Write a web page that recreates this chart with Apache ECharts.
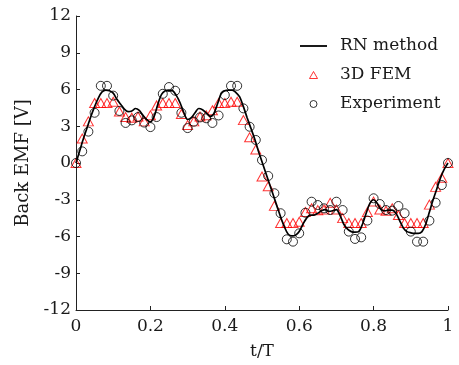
<!DOCTYPE html>
<html>
<head>
<meta charset="utf-8">
<script src="https://cdn.jsdelivr.net/npm/echarts@6/dist/echarts.min.js"></script>
<style>html,body{margin:0;padding:0;background:#fff}#c{width:459px;height:365px}</style>
</head>
<body>
<div id="c"></div>
<script>
// ---- data ----
const tRN = [0,0.01,0.02,0.03,0.04,0.05,0.06,0.07,0.08,0.09,0.10,0.11,0.12,0.13,0.14,0.15,0.16,0.17,0.18,0.19,0.20,0.21,0.22,0.23,0.24,0.25,0.26,0.27,0.28,0.29,0.30,0.31,0.32,0.33,0.34,0.35,0.36,0.37,0.38,0.39,0.40,0.41,0.42,0.43,0.44,0.45,0.46,0.47,0.48,0.49,0.50,0.51,0.52,0.53,0.54,0.55,0.56,0.57,0.58,0.59,0.60,0.61,0.62,0.63,0.64,0.65,0.66,0.67,0.68,0.69,0.70,0.71,0.72,0.73,0.74,0.75,0.76,0.77,0.78,0.79,0.80,0.81,0.82,0.83,0.84,0.85,0.86,0.87,0.88,0.89,0.90,0.91,0.92,0.93,0.94,0.95,0.96,0.97,0.98,0.99,1.00];
const rnValues = [0,1.0,2.0,2.9,3.8,4.6,5.3,5.8,5.95,5.9,5.7,5.2,4.8,4.4,4.2,4.25,4.45,4.3,3.9,3.55,3.35,3.8,4.8,5.6,5.9,5.95,5.9,5.5,4.9,4.1,3.55,3.7,4.1,4.45,4.35,4.1,3.8,4.0,4.8,5.65,5.9,5.95,5.95,5.75,5.4,4.6,3.7,2.85,2.0,1.0,0.1,-0.8,-1.7,-2.6,-3.5,-4.4,-5.2,-5.8,-5.95,-5.9,-5.6,-5.0,-4.5,-4.25,-4.25,-4.1,-3.9,-3.8,-3.95,-3.9,-3.8,-4.3,-5.0,-5.4,-5.6,-5.65,-5.6,-5.0,-4.1,-3.3,-3.0,-3.3,-3.8,-3.9,-3.85,-3.85,-4.1,-4.7,-5.3,-5.6,-5.7,-5.75,-5.75,-5.6,-5.0,-4.0,-3.0,-2.1,-1.2,-0.5,0];
const tSamples = [0,0.0167,0.0333,0.05,0.0667,0.0833,0.1,0.1167,0.1333,0.15,0.1667,0.1833,0.2,0.2167,0.2333,0.25,0.2667,0.2833,0.3,0.3167,0.3333,0.35,0.3667,0.3833,0.4,0.4167,0.4333,0.45,0.4667,0.4833,0.5,0.5167,0.5333,0.55,0.5667,0.5833,0.6,0.6167,0.6333,0.65,0.6667,0.6833,0.7,0.7167,0.7333,0.75,0.7667,0.7833,0.8,0.8167,0.8333,0.85,0.8667,0.8833,0.9,0.9167,0.9333,0.95,0.9667,0.9833,1];
const femValues = [0,2.0,3.4,4.9,4.9,4.9,5.0,4.2,3.75,3.7,3.8,3.4,3.9,4.7,4.9,4.9,4.9,4.0,3.1,3.4,3.8,3.9,4.3,4.9,4.9,5.0,5.0,3.5,2.1,1.1,-1.1,-1.9,-3.5,-4.9,-4.9,-4.9,-4.8,-4.0,-3.7,-3.85,-3.8,-3.25,-3.8,-4.5,-4.9,-4.9,-4.9,-4.0,-3.15,-3.8,-3.9,-3.7,-4.25,-4.9,-4.9,-4.9,-4.9,-3.4,-1.95,-1.2,0];
const expValues = [0,0.95,2.56,4.1,6.3,6.3,5.5,4.25,3.27,3.48,3.75,3.3,2.93,3.75,5.65,6.2,5.9,4.1,2.85,3.37,3.72,3.65,3.27,3.88,5.55,6.3,6.3,4.46,2.96,1.88,0.24,-1.06,-2.47,-4.1,-6.23,-6.42,-5.74,-4.06,-3.16,-3.43,-3.7,-3.84,-3.16,-3.84,-5.6,-6.2,-6.07,-4.7,-2.88,-3.35,-3.84,-3.89,-3.51,-4.1,-5.6,-6.42,-6.42,-4.71,-3.24,-1.8,0];
const xTicks = [0,0.2,0.4,0.6,0.8,1];
const yTicks = [-12,-9,-6,-3,0,3,6,9,12];
const seriesNames = ['RN method','3D FEM','Experiment'];
const xName = 't/T';
const yName = 'Back EMF [V]';

const FONT = 'DejaVu Serif';
const TXT = '#1a1a1a';
const pair = (xs, ys) => xs.map((x, i) => [x, ys[i]]);

const chart = echarts.init(document.getElementById('c'), null, {renderer: 'canvas'});
chart.setOption({
  animation: false,
  backgroundColor: '#fff',
  textStyle: {fontFamily: FONT},
  grid: {left: 76, right: 11, top: 16, bottom: 55, containLabel: false},
  legend: {
    orient: 'vertical', left: 300, top: 36, padding: 0,
    itemWidth: 27, itemHeight: 7, itemGap: 9, symbolKeepAspect: true,
    data: [
      {name: seriesNames[0], icon: 'path://M0,0 L27,0 L27,1.8 L0,1.8 Z',
       itemStyle: {color: '#000', borderWidth: 0}},
      {name: seriesNames[1], icon: 'path://M4,0 L8,7 L0,7 Z',
       itemStyle: {color: 'rgba(0,0,0,0)', borderColor: '#ff0000', borderWidth: 1}},
      {name: seriesNames[2], icon: 'path://M0,3.5 A3.5,3.5 0 1,1 7,3.5 A3.5,3.5 0 1,1 0,3.5 Z',
       itemStyle: {color: 'rgba(0,0,0,0)', borderColor: '#000', borderWidth: 1}}
    ],
    textStyle: {fontFamily: FONT, fontSize: 17, color: TXT, lineHeight: 20, padding: [0, 0, 0, 8]}
  },
  xAxis: {
    type: 'value', min: xTicks[0], max: xTicks[xTicks.length - 1], interval: 0.2,
    name: xName, nameLocation: 'middle', nameGap: 33,
    nameTextStyle: {fontFamily: FONT, fontSize: 17, color: TXT},
    axisLine: {show: true, onZero: false, lineStyle: {color: '#222', width: 1}},
    axisTick: {show: true, inside: true, length: 4, lineStyle: {color: '#222'}},
    axisLabel: {fontFamily: FONT, fontSize: 17, color: TXT, margin: 8},
    splitLine: {show: false}
  },
  yAxis: {
    type: 'value', min: yTicks[0], max: yTicks[yTicks.length - 1], interval: 3,
    name: yName, nameLocation: 'middle', nameGap: 41, nameRotate: 90,
    nameTextStyle: {fontFamily: FONT, fontSize: 18, color: TXT},
    axisLine: {show: true, onZero: false, lineStyle: {color: '#222', width: 1}},
    axisTick: {show: true, inside: true, length: 4, lineStyle: {color: '#222'}},
    axisLabel: {fontFamily: FONT, fontSize: 17, color: TXT, margin: 5,
      formatter: v => String(v)},
    splitLine: {show: false}
  },
  series: [
    {
      name: seriesNames[0], type: 'line', data: pair(tRN, rnValues),
      showSymbol: false, symbol: 'none', smooth: 0.3,
      lineStyle: {color: '#000', width: 1.7}, itemStyle: {color: '#000'}, z: 3
    },
    {
      name: seriesNames[1], type: 'scatter', data: pair(tSamples, femValues),
      symbol: 'triangle', symbolSize: [10, 9],
      itemStyle: {color: 'rgba(0,0,0,0)', borderColor: '#ff0000', borderWidth: 1}, z: 2
    },
    {
      name: seriesNames[2], type: 'scatter', data: pair(tSamples, expValues),
      symbol: 'circle', symbolSize: 9,
      itemStyle: {color: 'rgba(0,0,0,0)', borderColor: '#000', borderWidth: 1}, z: 4
    }
  ]
});
</script>
</body>
</html>
